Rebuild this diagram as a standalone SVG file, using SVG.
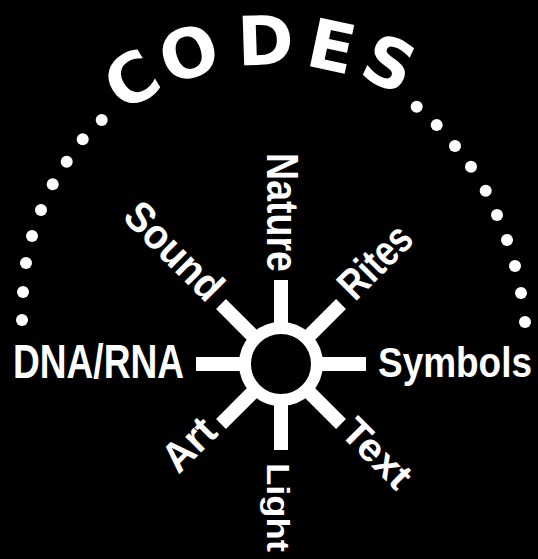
<svg xmlns="http://www.w3.org/2000/svg" width="538" height="559" viewBox="0 0 538 559">
<defs>
<style>
.lbl{font-family:"Liberation Sans",Arial,sans-serif;font-weight:bold;fill:#fff}
.title{font-family:"DejaVu Sans","Liberation Sans",sans-serif;font-weight:bold;fill:#fff;font-size:68px}
.spoke{stroke:#fff;stroke-width:14;fill:none}
.dot{fill:#fff}
</style>
</defs>
<rect width="538" height="559" fill="#000"/>
<g id="title">
<text class="title" x="122.5 168.8 238 304 357" y="113 85 65.5 65 75" rotate="-31 -17.9 -1.8 12 24.6">CODES</text>
</g>
<g id="dots">
<circle class="dot" cx="101.7" cy="120" r="6"/>
<circle class="dot" cx="82.7" cy="139.3" r="6"/>
<circle class="dot" cx="66.7" cy="161.7" r="6"/>
<circle class="dot" cx="52.7" cy="184.3" r="6"/>
<circle class="dot" cx="41" cy="210" r="6"/>
<circle class="dot" cx="32" cy="236" r="6"/>
<circle class="dot" cx="26" cy="263" r="6"/>
<circle class="dot" cx="23" cy="292" r="6"/>
<circle class="dot" cx="22" cy="320" r="6"/>
<circle class="dot" cx="416.7" cy="106.7" r="6"/>
<circle class="dot" cx="436.7" cy="125" r="6"/>
<circle class="dot" cx="455" cy="146" r="6"/>
<circle class="dot" cx="471" cy="166.7" r="6"/>
<circle class="dot" cx="485.7" cy="190.7" r="6"/>
<circle class="dot" cx="497" cy="215" r="6"/>
<circle class="dot" cx="507" cy="240" r="6"/>
<circle class="dot" cx="515" cy="266" r="6"/>
<circle class="dot" cx="521" cy="293" r="6"/>
<circle class="dot" cx="525" cy="322" r="6"/>
</g>
<g id="connectors" transform="translate(281,364)">
<line class="spoke" x1="0" y1="0" x2="-85" y2="0"/>
<line class="spoke" x1="0" y1="0" x2="85" y2="0"/>
<line class="spoke" x1="0" y1="0" x2="0" y2="-84"/>
<line class="spoke" x1="0" y1="0" x2="0" y2="86"/>
<line class="spoke" x1="0" y1="0" x2="-60" y2="-60"/>
<line class="spoke" x1="0" y1="0" x2="60" y2="-60"/>
<line class="spoke" x1="0" y1="0" x2="-60" y2="60"/>
<line class="spoke" x1="0" y1="0" x2="60" y2="60"/>
</g>
<g id="hub">
<circle cx="281" cy="364" r="36" fill="#000" stroke="#fff" stroke-width="12"/>
</g>
<g id="node-dna" transform="translate(13,378) scale(0.773,1)">
<text class="lbl" x="0" y="0" font-size="48">DNA/RNA</text>
</g>
<g id="node-symbols" transform="translate(378,377) scale(0.88,1)">
<text class="lbl" x="0" y="0" font-size="42">Symbols</text>
</g>
<g id="node-nature" transform="translate(281,364) rotate(90)">
<text class="lbl" x="-211" y="14" font-size="44" textLength="119" lengthAdjust="spacingAndGlyphs">Nature</text>
</g>
<g id="node-light" transform="translate(281,364) rotate(90)">
<text class="lbl" x="99" y="14" font-size="32" textLength="89" lengthAdjust="spacingAndGlyphs">Light</text>
</g>
<g id="node-sound" transform="translate(281,364) rotate(45)">
<text class="lbl" x="-216" y="10" font-size="42" textLength="121" lengthAdjust="spacingAndGlyphs">Sound</text>
</g>
<g id="node-rites" transform="translate(281,364) rotate(-45)">
<text class="lbl" x="96" y="8.5" font-size="43" textLength="86" lengthAdjust="spacingAndGlyphs">Rites</text>
</g>
<g id="node-art" transform="translate(281,364) rotate(-45)">
<text class="lbl" x="-151" y="6" font-size="42" textLength="58" lengthAdjust="spacingAndGlyphs">Art</text>
</g>
<g id="node-text" transform="translate(281,364) rotate(45)">
<text class="lbl" x="90" y="8.5" font-size="39" textLength="82" lengthAdjust="spacingAndGlyphs">Text</text>
</g>
</svg>
